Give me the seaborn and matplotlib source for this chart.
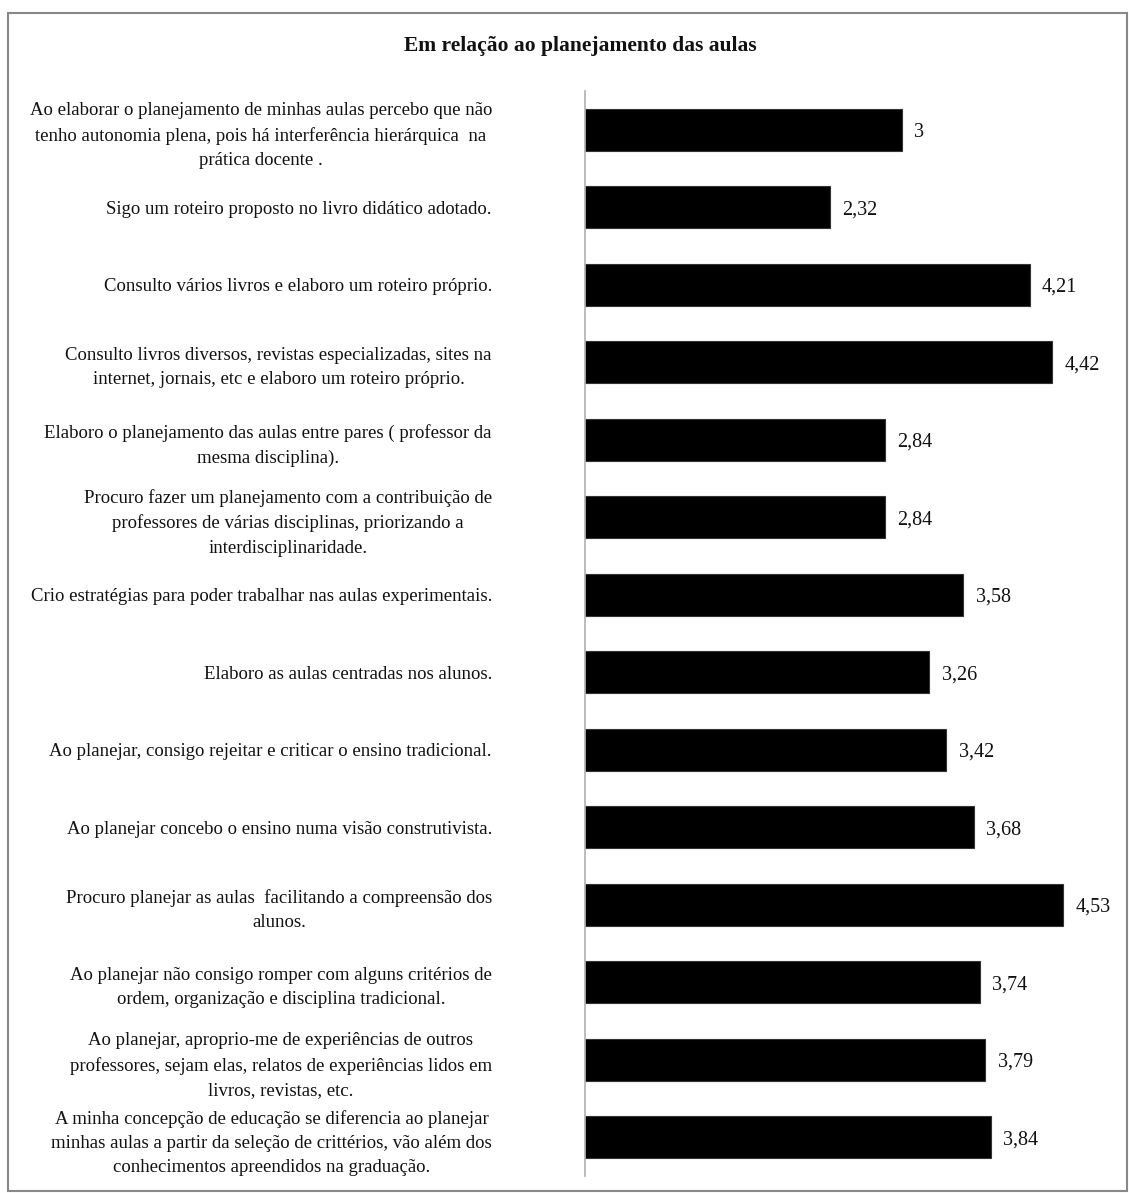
import matplotlib
matplotlib.use("Agg")
import matplotlib.pyplot as plt
from matplotlib.patches import Rectangle
import seaborn as sns
import pandas as pd

title = "Em relação ao planejamento das aulas"

categories = [
    "Ao elaborar o planejamento de minhas aulas percebo que não\ntenho autonomia plena, pois há interferência hierárquica  na\nprática docente .",
    "Sigo um roteiro proposto no livro didático adotado.",
    "Consulto vários livros e elaboro um roteiro próprio.",
    "Consulto livros diversos, revistas especializadas, sites na\ninternet, jornais, etc e elaboro um roteiro próprio.",
    "Elaboro o planejamento das aulas entre pares ( professor da\nmesma disciplina).",
    "Procuro fazer um planejamento com a contribuição de\nprofessores de várias disciplinas, priorizando a\ninterdisciplinaridade.",
    "Crio estratégias para poder trabalhar nas aulas experimentais.",
    "Elaboro as aulas centradas nos alunos.",
    "Ao planejar, consigo rejeitar e criticar o ensino tradicional.",
    "Ao planejar concebo o ensino numa visão construtivista.",
    "Procuro planejar as aulas  facilitando a compreensão dos\nalunos.",
    "Ao planejar não consigo romper com alguns critérios de\nordem, organização e disciplina tradicional.",
    "Ao planejar, aproprio-me de experiências de outros\nprofessores, sejam elas, relatos de experiências lidos em\nlivros, revistas, etc.",
    "A minha concepção de educação se diferencia ao planejar\nminhas aulas a partir da seleção de crittérios, vão além dos\nconhecimentos apreendidos na graduação.",
]

values = [3, 2.32, 4.21, 4.42, 2.84, 2.84, 3.58, 3.26, 3.42, 3.68, 4.53, 3.74, 3.79, 3.84]

df = pd.DataFrame({"item": categories, "media": values})

sns.set_style("white")
plt.rcParams["font.family"] = ["Liberation Serif", "DejaVu Serif"]

W, H = 1129, 1193
fig = plt.figure(figsize=(W / 100, H / 100), dpi=100)
ax = fig.add_axes([585 / W, 1 - 1176 / H, (1113 - 585) / W, (1176 - 91) / H])

sns.barplot(data=df, y="item", x="media", orient="h", color="black",
            width=0.54, edgecolor="#333333", linewidth=0.8, ax=ax,
            saturation=1)

ax.set_xlim(0, 5)
ax.set_ylim(13.5, -0.5)
ax.set_xlabel("")
ax.set_ylabel("")
ax.set_xticks([])

ax.tick_params(axis="y", length=0, pad=67)
for lbl in ax.get_yticklabels():
    lbl.set_fontsize(13.5)
    lbl.set_ha("right")
    lbl.set_multialignment("center")
    lbl.set_linespacing(1.55)
    lbl.set_color("#111111")

for s in ["top", "right", "bottom"]:
    ax.spines[s].set_visible(False)
ax.spines["left"].set_color("#b0b0b0")
ax.spines["left"].set_linewidth(1.2)

fmt_labels = [("%g" % v).replace(".", ",") for v in values]
texts = ax.bar_label(ax.containers[0], labels=fmt_labels, padding=9,
                     fontsize=14.5, color="#111111")
for t in texts:
    t.set_va("center_baseline")

fig.text(580 / W, 1 - 46 / H, title, ha="center", va="center",
         fontsize=15.5, fontweight="bold", color="#111111")

fig.add_artist(Rectangle((8 / W, 1 - 1191 / H), (1127 - 8) / W, (1191 - 13) / H,
                         transform=fig.transFigure, fill=False,
                         edgecolor="#888888", linewidth=1.5))

fig.savefig("out.png", dpi=100)
